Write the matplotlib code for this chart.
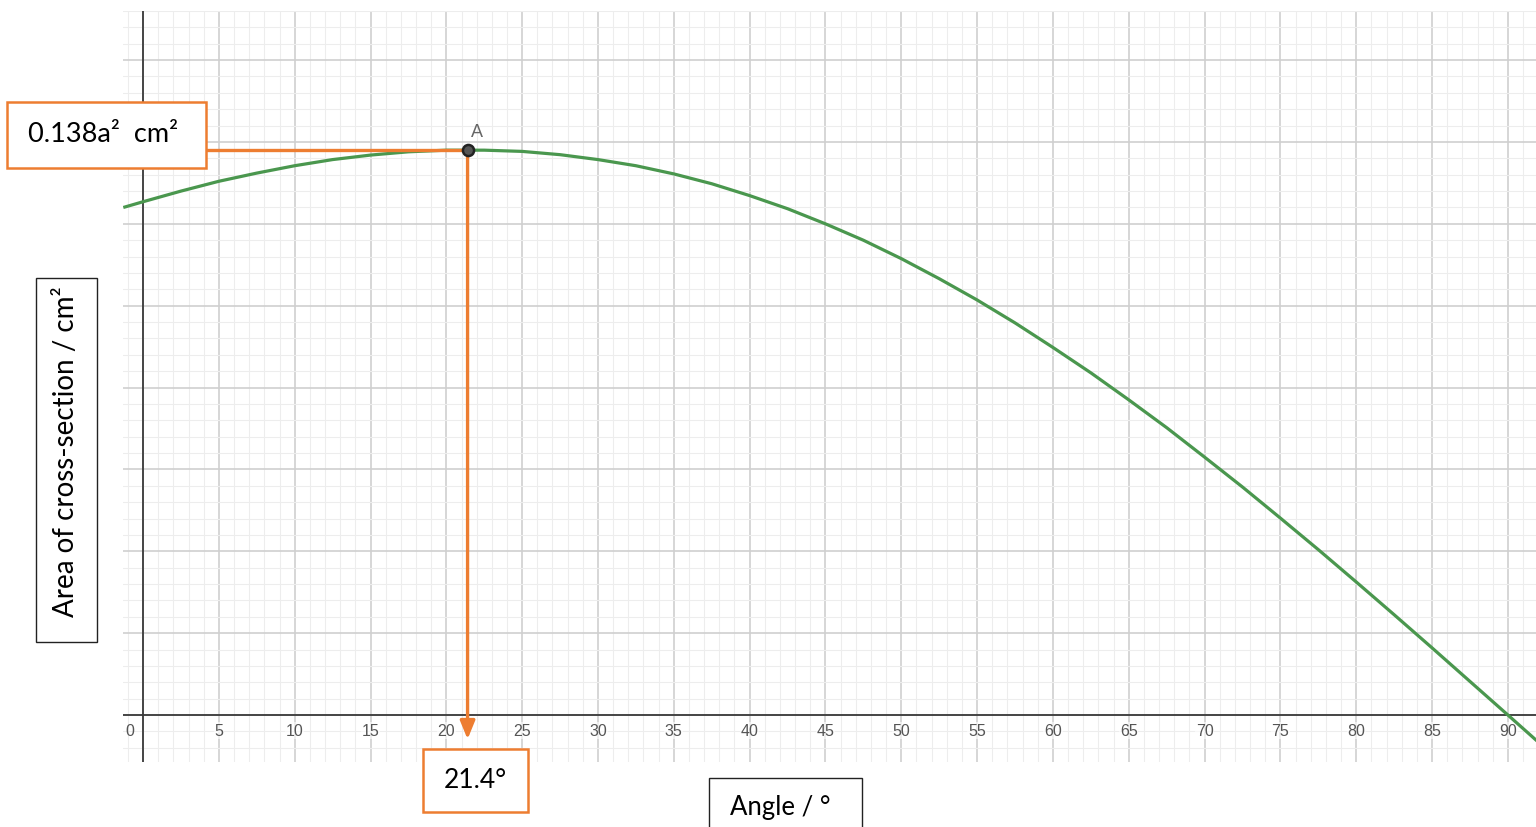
import matplotlib.pyplot as plt
from matplotlib.patches import Rectangle
from matplotlib.ticker import MultipleLocator

# values (area in units of a^2)
angle = [-1.3, 0, 2.5, 5, 7.5, 10, 12.5, 15, 17.5, 20, 22.5, 25, 27.5, 30,
         32.5, 35, 37.5, 40, 42.5, 45, 47.5, 50, 52.5, 55, 57.5, 60, 62.5,
         65, 67.5, 70, 72.5, 75, 77.5, 80, 82.5, 85, 87.5, 90, 92]
area = [0.1240, 0.1254, 0.1280, 0.1304, 0.1324, 0.1342, 0.1357, 0.1368,
        0.1376, 0.1380, 0.1380, 0.1377, 0.1369, 0.1357, 0.1342, 0.1322,
        0.1298, 0.1269, 0.1237, 0.1200, 0.1160, 0.1115, 0.1066, 0.1014,
        0.0958, 0.0898, 0.0836, 0.0770, 0.0702, 0.0630, 0.0557, 0.0481,
        0.0404, 0.0325, 0.0245, 0.0164, 0.0082, 0.0, -0.0066]

peak_angle = 21.4
peak_area = 0.138
x_ticks = list(range(0, 95, 5))

ORANGE = '#ED7D31'
GREEN = '#4a974e'
BOX_FONT = ['Lato', 'DejaVu Sans']

W, H = 1536, 828
fig = plt.figure(figsize=(W / 100, H / 100), dpi=100)


def fx(px):
    return px / W


def fy(py):
    return 1 - py / H


ax = fig.add_axes([fx(123), fy(763), fx(1536) - fx(123), fy(12) - fy(763)])
ax.set_xlim(-1.32, 91.85)
ax.set_ylim(-0.01147, 0.172)

ax.xaxis.set_major_locator(MultipleLocator(5))
ax.xaxis.set_minor_locator(MultipleLocator(1))
ax.yaxis.set_major_locator(MultipleLocator(0.02))
ax.yaxis.set_minor_locator(MultipleLocator(0.004))
ax.grid(which='major', color='#cfcfcf', lw=1.2, zorder=0)
ax.grid(which='minor', color='#ededed', lw=0.8, zorder=0)
ax.tick_params(which='both', length=0, labelbottom=False, labelleft=False)
for s in ax.spines.values():
    s.set_visible(False)

ax.axhline(0, color='#3a3a3a', lw=1.3, zorder=2)
ax.axvline(0, color='#3a3a3a', lw=1.3, zorder=2)

for t in x_ticks:
    if t == 0:
        ax.text(-0.6, -0.00375, '0', ha='right', va='center', fontsize=11.5,
                color='#555555', family='Liberation Sans', zorder=3)
    else:
        ax.text(t, -0.00375, str(t), ha='center', va='center', fontsize=11.5,
                color='#555555', family='Liberation Sans', zorder=3,
                bbox=dict(boxstyle='square,pad=0.05', fc='white', ec='none', alpha=0.6))

ax.plot(angle, area, color=GREEN, lw=2.3, zorder=4, solid_capstyle='butt')

# guide lines to the maximum
ax.plot([-1.32, peak_angle], [peak_area, peak_area], color=ORANGE, lw=2.4, zorder=5)
ax.annotate('', xy=(peak_angle, -0.0059), xytext=(peak_angle, peak_area),
            arrowprops=dict(arrowstyle='-|>,head_length=1.1,head_width=0.45',
                            color=ORANGE, lw=2.4, shrinkA=0, shrinkB=0), zorder=5)
ax.plot([peak_angle], [peak_area], 'o', ms=8, mfc='#555555', mec='#222222',
        mew=1.8, zorder=6)
ax.text(peak_angle + 0.25, peak_area + 0.0025, 'A', fontsize=13, color='#666666',
        family='Liberation Sans', va='bottom', ha='left', zorder=6)


def box(x0, y0, x1, y1, ec, lw):
    r = Rectangle((fx(x0), fy(y1)), fx(x1) - fx(x0), fy(y0) - fy(y1),
                  transform=fig.transFigure, fc='white', ec=ec, lw=lw, zorder=10)
    fig.add_artist(r)


box(7, 103, 206, 169, ORANGE, 1.8)
fig.text(fx(103), fy(135), '0.138a²  cm²', ha='center', va='center',
         fontsize=19.5, family=BOX_FONT, zorder=11)

box(423, 750, 528, 813, ORANGE, 1.8)
fig.text(fx(475), fy(781), '21.4°', ha='center', va='center',
         fontsize=19, family=BOX_FONT, zorder=11)

box(709, 779, 862, 840, '#222222', 1.0)
fig.text(fx(780), fy(808), 'Angle / °', ha='center', va='center',
         fontsize=18.5, family=BOX_FONT, zorder=11)

box(36, 279, 97, 643, '#222222', 1.0)
fig.text(fx(66), fy(452), 'Area of cross-section / cm²', ha='center', va='center',
         rotation=90, fontsize=20, family=BOX_FONT, zorder=11)

fig.savefig('out.png', dpi=100)
